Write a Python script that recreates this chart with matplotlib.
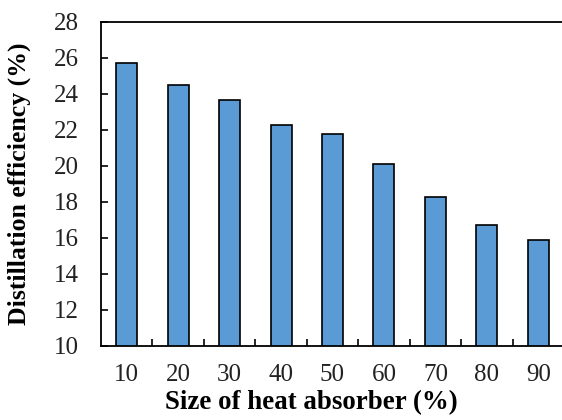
import numpy as np
import matplotlib.pyplot as plt
from matplotlib.ticker import FixedLocator

# 数据
size_list = ['10', '20', '30', '40', '50', '60', '70', '80', '90']
efficiency = [25.7, 24.5, 23.65, 22.25, 21.75, 20.1, 18.25, 16.7, 15.9]
y_ticks = [10, 12, 14, 16, 18, 20, 22, 24, 26, 28]

plt.rcParams['font.family'] = ['Liberation Serif', 'DejaVu Serif']

fig = plt.figure(figsize=(5.62, 4.2), dpi=100)
# 右边框被裁掉了，所以坐标轴略超出画布
ax = fig.add_axes([101 / 562, 1 - 346 / 420, 463 / 562, (346 - 22) / 420])

x = np.arange(len(size_list))
ax.bar(x, efficiency, width=0.41, color='#5B9BD5', edgecolor='black', linewidth=1.2, zorder=2)

ax.set_xlim(-0.5, len(size_list) - 0.5)
ax.set_ylim(10, 28)
ax.set_yticks(y_ticks)
ax.set_xticks(x)
ax.set_xticklabels(size_list)
ax.xaxis.set_minor_locator(FixedLocator(np.arange(0.5, len(size_list) - 1, 1)))

ax.tick_params(axis='x', which='major', length=0, pad=13, labelsize=18, labelcolor='#222222')
ax.tick_params(axis='x', which='minor', direction='in', length=5, width=1.2)
ax.tick_params(axis='y', direction='in', length=5, width=1.2, pad=16, labelsize=18, labelcolor='#222222')

for s in ax.spines.values():
    s.set_linewidth(1.3)

ax.set_xlabel('Size of heat absorber (%)', fontsize=19.4, fontweight='bold')
ax.xaxis.set_label_coords(0.4536, -0.137)
ax.set_ylabel('Distillation efficiency (%)', fontsize=18.5, fontweight='bold')
ax.yaxis.set_label_coords(-0.152, 0.5)

fig.savefig('out.png', dpi=100)
